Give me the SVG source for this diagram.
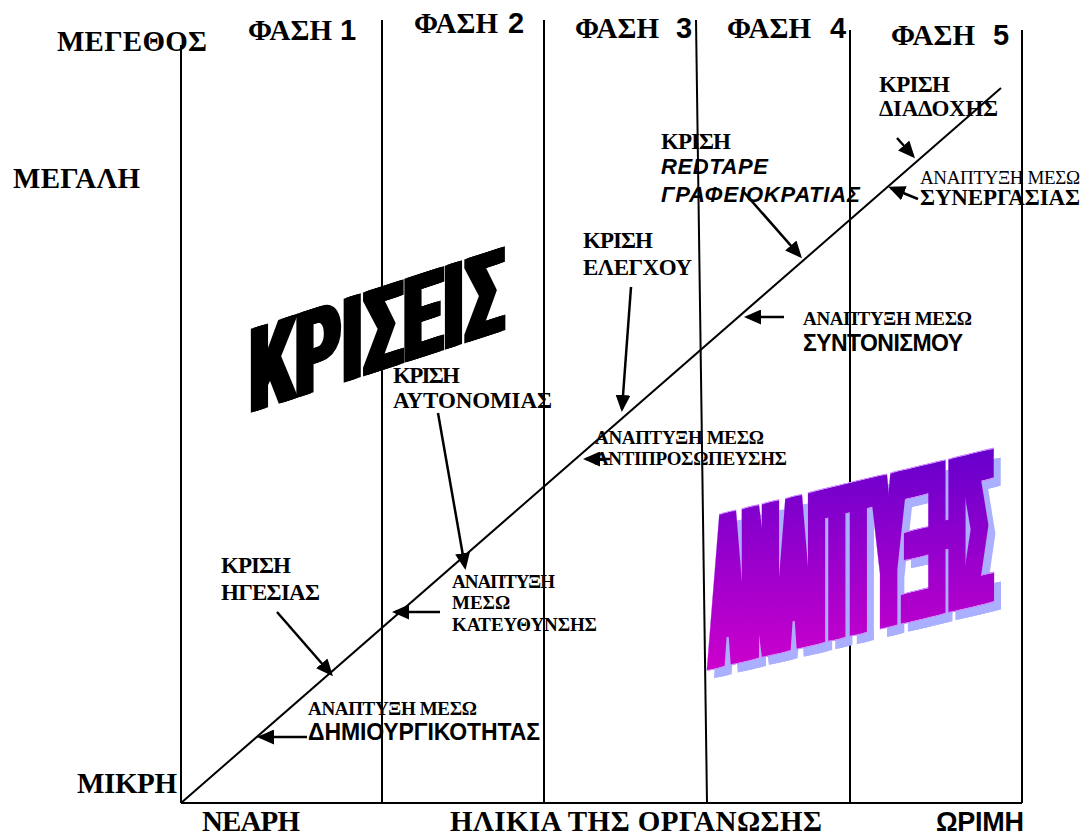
<svg xmlns="http://www.w3.org/2000/svg" xmlns:xlink="http://www.w3.org/1999/xlink" width="1083" height="832" viewBox="0 0 1083 832">
<style>
.sb{font-family:"Liberation Serif","Times New Roman",serif;font-weight:bold}
.sr{font-family:"Liberation Serif","Times New Roman",serif}
.ab{font-family:"Liberation Sans",Arial,sans-serif;font-weight:bold}
.abi{font-family:"Liberation Sans",Arial,sans-serif;font-weight:bold;font-style:italic}
.ln{stroke:#000;stroke-width:2;fill:none}
.ar{stroke:#000;stroke-width:2.5;fill:none;marker-end:url(#ah)}
.big{font-size:29px}
.cr{font-size:23px}
.gr{font-size:19px}
</style>
<defs>
<marker id="ah" markerUnits="userSpaceOnUse" markerWidth="17" markerHeight="15" refX="14" refY="7.5" orient="auto" viewBox="0 0 17 15">
<path d="M0,0 L17,7.5 L0,15 z" fill="#000"/>
</marker>
<linearGradient id="pg" gradientUnits="userSpaceOnUse" x1="50" y1="-208" x2="0" y2="0">
<stop offset="0" stop-color="#6600cc"/>
<stop offset="1" stop-color="#cc00cc"/>
</linearGradient>
<text id="anapt" font-family="Roboto,'DejaVu Sans',sans-serif" font-weight="900" font-size="214" textLength="279" lengthAdjust="spacingAndGlyphs">ΑΝΑΠΤΥΞΗΣ</text>
<text id="kris" font-family="Roboto,'DejaVu Sans',sans-serif" font-weight="900" font-size="118" textLength="255" lengthAdjust="spacingAndGlyphs">ΚΡΙΣΕΙΣ</text>
</defs>

<g id="axes">
<line class="ln" x1="181" y1="45" x2="181" y2="803"/>
<line class="ln" x1="181" y1="803" x2="1022" y2="803"/>
<line class="ln" x1="382" y1="20" x2="382" y2="803"/>
<line class="ln" x1="544" y1="20" x2="544" y2="803"/>
<line class="ln" x1="696" y1="20" x2="707" y2="803"/>
<line class="ln" x1="850" y1="30" x2="850" y2="803"/>
<line class="ln" x1="1022" y1="30" x2="1022" y2="803"/>
<line class="ln" x1="181" y1="803" x2="1001" y2="88"/>
</g>

<g id="axis-labels">
<text class="sb big" x="57" y="51" textLength="150">ΜΕΓΕΘΟΣ</text>
<text class="sb big" x="13" y="188" textLength="127">ΜΕΓΑΛΗ</text>
<text class="sb big" x="77" y="793" textLength="100">ΜΙΚΡΗ</text>
<text class="sb big" x="202" y="831" textLength="98">ΝΕΑΡΗ</text>
<text class="sb big" x="450" y="831" textLength="372">ΗΛΙΚΙΑ ΤΗΣ ΟΡΓΑΝΩΣΗΣ</text>
<text class="ab" font-size="27" x="936" y="831" textLength="88">ΩΡΙΜΗ</text>
</g>

<g id="phases">
<text class="sb big" x="248" y="40"><tspan textLength="84">ΦΑΣΗ</tspan><tspan class="ab" x="340">1</tspan></text>
<text class="sb big" x="414" y="33"><tspan textLength="84">ΦΑΣΗ</tspan><tspan class="ab" x="508">2</tspan></text>
<text class="sb big" x="575" y="38"><tspan textLength="84">ΦΑΣΗ</tspan><tspan class="ab" x="676">3</tspan></text>
<text class="sb big" x="727" y="38"><tspan textLength="84">ΦΑΣΗ</tspan><tspan class="ab" x="830">4</tspan></text>
<text class="sb big" x="891" y="45"><tspan textLength="84">ΦΑΣΗ</tspan><tspan class="ab" x="993">5</tspan></text>
</g>

<g id="wordart-kriseis" transform="matrix(1,-0.325,0,1,247,414)" fill="#000">
<use href="#kris" x="0" y="0"/>
<use href="#kris" x="2.5" y="0"/>
<use href="#kris" x="5" y="0"/>
</g>

<g id="wordart-anaptyxis" transform="matrix(1,-0.24,0,1,707,670)">
<g fill="#aab0ff">
<use href="#anapt" x="7" y="10"/>
<use href="#anapt" x="10" y="10"/>
<use href="#anapt" x="13" y="10"/>
<use href="#anapt" x="16" y="10"/>
</g>
<g fill="none" stroke="#cc8cff" stroke-width="2.5">
<use href="#anapt" x="0" y="0"/>
<use href="#anapt" x="3" y="0"/>
<use href="#anapt" x="6" y="0"/>
<use href="#anapt" x="9" y="0"/>
</g>
<g fill="url(#pg)">
<use href="#anapt" x="0" y="0"/>
<use href="#anapt" x="3" y="0"/>
<use href="#anapt" x="6" y="0"/>
<use href="#anapt" x="9" y="0"/>
</g>
</g>

<g id="node-krisi-igesias">
<text class="sb cr" x="221" y="573" textLength="70">ΚΡΙΣΗ</text>
<text class="sb cr" x="221" y="600" textLength="99">ΗΓΕΣΙΑΣ</text>
</g>
<g id="node-anaptyxi-dimiourgikotitas">
<text class="sb gr" x="308" y="715" textLength="169">ΑΝΑΠΤΥΞΗ ΜΕΣΩ</text>
<text class="ab" font-size="23" x="308" y="740" textLength="232">ΔΗΜΙΟΥΡΓΙΚΟΤΗΤΑΣ</text>
</g>
<g id="node-krisi-autonomias">
<text class="sb cr" x="393" y="383" textLength="67">ΚΡΙΣΗ</text>
<text class="sb cr" x="393" y="408" textLength="159">ΑΥΤΟΝΟΜΙΑΣ</text>
</g>
<g id="node-anaptyxi-kateuthynsis">
<text class="sb gr" x="452" y="588" textLength="103">ΑΝΑΠΤΥΞΗ</text>
<text class="sb gr" x="452" y="609">ΜΕΣΩ</text>
<text class="sb gr" x="452" y="631" textLength="145">ΚΑΤΕΥΘΥΝΣΗΣ</text>
</g>
<g id="node-krisi-elegxou">
<text class="sb cr" x="583" y="248" textLength="70">ΚΡΙΣΗ</text>
<text class="sb cr" x="583" y="275" textLength="109">ΕΛΕΓΧΟΥ</text>
</g>
<g id="node-anaptyxi-antiprosopeusis">
<text class="sb gr" x="595" y="444" textLength="169">ΑΝΑΠΤΥΞΗ ΜΕΣΩ</text>
<text class="sb gr" x="595" y="465" textLength="192">ΑΝΤΙΠΡΟΣΩΠΕΥΣΗΣ</text>
</g>
<g id="node-krisi-redtape">
<text class="sb cr" x="661" y="149" textLength="70">ΚΡΙΣΗ</text>
<text class="abi" font-size="22" x="661" y="174" textLength="107">REDTAPE</text>
<text class="abi" font-size="22" x="661" y="202" textLength="199">ΓΡΑΦΕΙΟΚΡΑΤΙΑΣ</text>
</g>
<g id="node-anaptyxi-syntonismou">
<text class="sb gr" x="803" y="325" textLength="169">ΑΝΑΠΤΥΞΗ ΜΕΣΩ</text>
<text class="ab" font-size="23" x="803" y="351" textLength="160">ΣΥΝΤΟΝΙΣΜΟΥ</text>
</g>
<g id="node-krisi-diadoxis">
<text class="sb cr" x="879" y="92" textLength="71">ΚΡΙΣΗ</text>
<text class="sb cr" x="879" y="116" textLength="119">ΔΙΑΔΟΧΗΣ</text>
</g>
<g id="node-anaptyxi-synergasias">
<text class="sr" font-size="19" x="920" y="184" textLength="160">ΑΝΑΠΤΥΞΗ ΜΕΣΩ</text>
<text class="sb cr" x="920" y="205" textLength="160">ΣΥΝΕΡΓΑΣΙΑΣ</text>
</g>

<g id="connectors">
<line class="ar" x1="277" y1="612" x2="331" y2="674"/>
<line class="ar" x1="307" y1="737" x2="260" y2="737"/>
<line class="ar" x1="438" y1="413" x2="465" y2="567"/>
<line class="ar" x1="440" y1="612" x2="395" y2="612"/>
<line class="ar" x1="631" y1="287" x2="622" y2="409"/>
<line class="ar" x1="610" y1="459" x2="586" y2="459"/>
<line class="ar" x1="742" y1="190" x2="800" y2="256"/>
<line class="ar" x1="784" y1="317" x2="747" y2="317"/>
<line class="ar" x1="897" y1="138" x2="913" y2="156"/>
<line class="ar" x1="918" y1="199" x2="891" y2="188"/>
</g>
</svg>
